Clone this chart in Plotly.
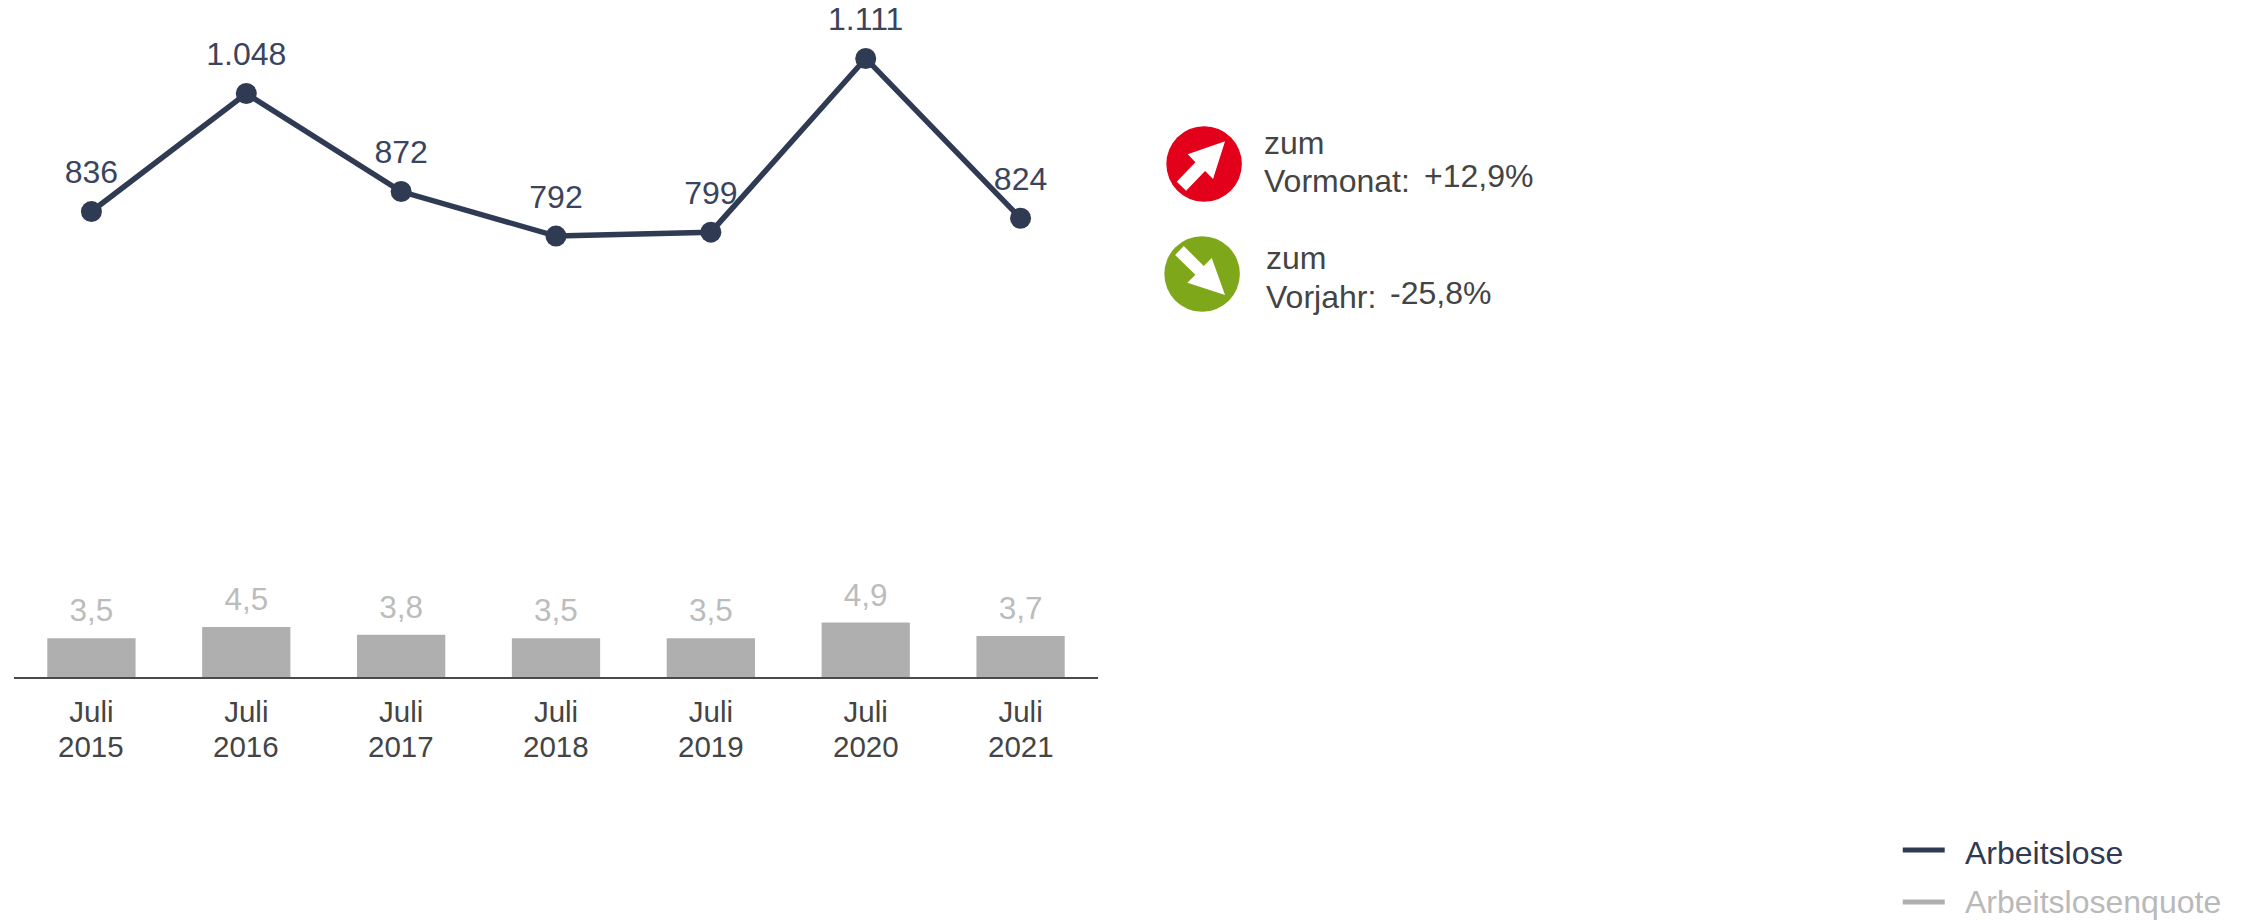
import plotly.graph_objects as go

W, H = 2247, 921
L, R, BASE = 13.5, 1098.5, 677

months = ["Juli 2015", "Juli 2016", "Juli 2017", "Juli 2018", "Juli 2019", "Juli 2020", "Juli 2021"]
tick_months = ["Juli", "Juli", "Juli", "Juli", "Juli", "Juli", "Juli"]
tick_years = ["2015", "2016", "2017", "2018", "2019", "2020", "2021"]
arbeitslose = [836, 1048, 872, 792, 799, 1111, 824]
quote = [3.5, 4.5, 3.8, 3.5, 3.5, 4.9, 3.7]

NAVY = "#2f3a53"
GREY = "#afafaf"
TEXT = "#444444"
FONT = "Liberation Sans"


def px(x):
    return (x - L) / (R - L)


def py(y):
    return (BASE - y) / BASE


def zoom_path(points):
    parts = []
    for i, (zx, zy) in enumerate(points):
        parts.append(f"{'M' if i == 0 else 'L'}{px(1120 + zx / 3):.5f},{py(100 + zy / 3):.5f}")
    return " ".join(parts) + " Z"


def circle(cx, cy, r, color):
    return dict(type="circle", xref="paper", yref="paper", x0=px(cx - r), x1=px(cx + r),
                y0=py(cy + r), y1=py(cy - r), fillcolor=color, line=dict(width=0), layer="above")


def arrow(points):
    return dict(type="path", xref="paper", yref="paper", path=zoom_path(points),
                fillcolor="white", line=dict(width=0), layer="above")


def dash(x0, x1, y, color):
    return dict(type="line", xref="paper", yref="paper", x0=px(x0), x1=px(x1), y0=py(y), y1=py(y),
                line=dict(color=color, width=5))


def label(x, y, text, size=32, color=TEXT):
    return dict(xref="paper", yref="paper", x=px(x), y=py(y), text=text, showarrow=False,
                xanchor="left", yanchor="middle", align="left",
                font=dict(family=FONT, size=size, color=color))


fig = go.Figure()
fig.add_trace(go.Bar(x=months, y=quote, name="Arbeitslosenquote", yaxis="y2", width=0.57,
                     marker=dict(color=GREY, line=dict(width=0)), showlegend=False, hoverinfo="skip"))
fig.add_trace(go.Scatter(x=months, y=quote, yaxis="y2", mode="markers+text",
                         marker=dict(size=13, opacity=0), texttemplate="%{y:.1f}", textposition="top center",
                         cliponaxis=False, textfont=dict(family=FONT, size=31.5, color="#bcbcbc"),
                         showlegend=False, hoverinfo="skip"))
fig.add_trace(go.Scatter(x=months, y=arbeitslose, name="Arbeitslose", mode="lines+markers",
                         line=dict(color=NAVY, width=5.5), marker=dict(color=NAVY, size=21),
                         cliponaxis=False, showlegend=False, hoverinfo="skip"))
fig.add_trace(go.Scatter(x=months, y=arbeitslose, mode="markers+text",
                         marker=dict(size=31, opacity=0), texttemplate="%{y:,.0f}", textposition="top center",
                         cliponaxis=False, textfont=dict(family=FONT, size=32, color="#3a445c"),
                         showlegend=False, hoverinfo="skip"))

year_labels = [dict(xref="x", yref="paper", x=m, y=py(746), text=t, showarrow=False,
                    xanchor="center", yanchor="middle",
                    font=dict(family=FONT, size=29.5, color=TEXT))
               for m, t in zip(months, tick_years)]

fig.update_layout(
    width=W, height=H, autosize=False,
    margin=dict(l=L, r=W - R, t=0, b=H - BASE, pad=0),
    paper_bgcolor="white", plot_bgcolor="white",
    separators=",.", bargap=0.43, showlegend=False,
    font=dict(family=FONT, color=TEXT),
    xaxis=dict(type="category", categoryorder="array", categoryarray=months, range=[-0.5, 6.5],
               tickmode="array", tickvals=months, ticktext=tick_months,
               showline=True, linecolor="#4a4a4a", linewidth=2, showgrid=False, zeroline=False,
               ticks="outside", ticklen=8, tickcolor="rgba(0,0,0,0)",
               tickfont=dict(family=FONT, size=29.5, color=TEXT)),
    yaxis=dict(range=[0, 1216], visible=False, fixedrange=True),
    yaxis2=dict(range=[0, 61], visible=False, overlaying="y", fixedrange=True),
    shapes=[
        circle(1204.7, 164, 37.8, "#e2001a"),
        arrow([(317, 124), (205, 163), (228, 187), (172, 245), (200, 272), (257, 213), (281, 237)]),
        circle(1202.7, 274, 37.8, "#7fa71a"),
        arrow([(317, 585), (204, 548), (228, 524), (167, 465), (193, 438), (253, 498), (277, 474)]),
        dash(1904, 1946, 850, NAVY),
        dash(1904, 1946, 902, GREY),
    ],
    annotations=[
        label(1262.5, 143, "zum"),
        label(1262.5, 181, "Vormonat:"),
        label(1422.5, 176, "+12,9%"),
        label(1264.5, 258, "zum"),
        label(1264.5, 297, "Vorjahr:"),
        label(1388.5, 293, "-25,8%"),
        label(1964.5, 853, "Arbeitslose", color=NAVY),
        label(1964.5, 902, "Arbeitslosenquote", color="#b9b9b9"),
    ] + year_labels,
)

fig.write_html("out.html", config={"displayModeBar": False}, post_script="document.body.style.margin='0';")
